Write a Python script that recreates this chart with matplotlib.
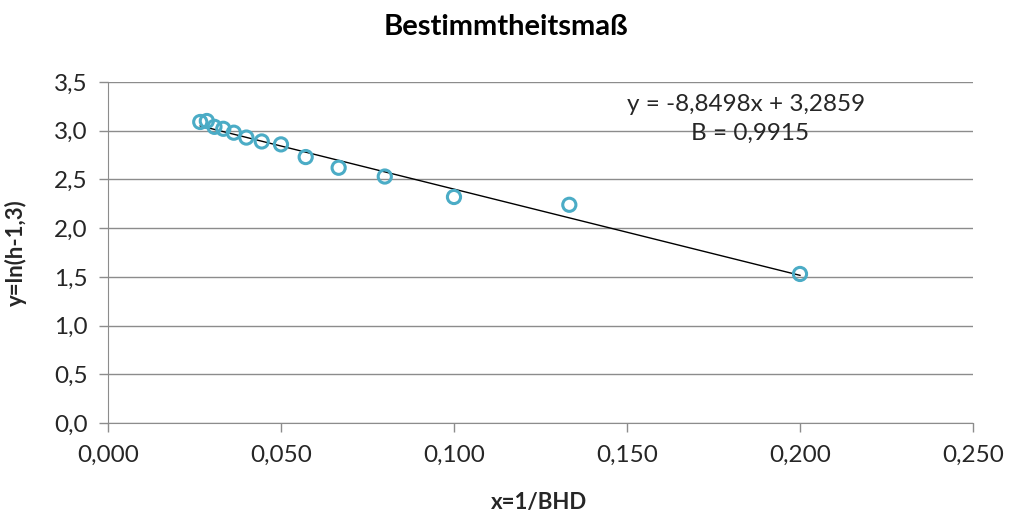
import numpy as np
import matplotlib.pyplot as plt
from matplotlib.ticker import FuncFormatter

plt.rcParams['font.family'] = ['Lato', 'DejaVu Sans']

# Brusthöhendurchmesser und transformierte Höhen
bhd = [5, 7.5, 10, 12.5, 15, 17.5, 20, 22.5, 25, 27.5, 30, 32.5, 35, 37.5]
y_vals = [1.53, 2.24, 2.32, 2.53, 2.62, 2.73, 2.86, 2.89, 2.93, 2.98, 3.02, 3.04, 3.10, 3.09]
slope = -8.8498
intercept = 3.2859
r2 = 0.9915

x_vals = 1.0 / np.array(bhd)

fig = plt.figure(figsize=(10.11, 5.14), dpi=100)
ax = fig.add_axes([0.1068, 0.177, 0.8556, 0.6634])

grid_col = '#8c8c8c'
txt_col = '#262626'
ax.grid(axis='y', color=grid_col, linewidth=1.0)
ax.set_axisbelow(True)

ax.scatter(x_vals, y_vals, s=90, facecolors='none', edgecolors='#4bacc6', linewidths=2.2, zorder=3)

# lineare Trendlinie über den Datenbereich
xt = np.array([x_vals.min(), x_vals.max()])
ax.plot(xt, slope * xt + intercept, color='black', linewidth=1.0, zorder=2)

ax.set_xlim(0, 0.25)
ax.set_ylim(0, 3.5)
ax.set_xticks(np.arange(0, 0.2501, 0.05))
ax.set_yticks(np.arange(0, 3.51, 0.5))
ax.xaxis.set_major_formatter(FuncFormatter(lambda v, p: f'{v:.3f}'.replace('.', ',')))
ax.yaxis.set_major_formatter(FuncFormatter(lambda v, p: f'{v:.1f}'.replace('.', ',')))

for s in ['top', 'right']:
    ax.spines[s].set_visible(False)
for s in ['left', 'bottom']:
    ax.spines[s].set_color(grid_col)
ax.tick_params(colors=grid_col, length=6.5, width=1.0, labelcolor=txt_col, labelsize=17.5)
ax.tick_params(axis='x', pad=9)
ax.tick_params(axis='y', pad=8)

# Achsenbeschriftungen und Titel
fig.text(0.533, 0.022, 'x=1/BHD', fontsize=16, fontweight='bold', color=txt_col,
         ha='center', va='center')
fig.text(0.016, 0.508, 'y=ln(h-1,3)', fontsize=16, fontweight='bold', color=txt_col,
         ha='center', va='center', rotation=90)
fig.text(0.5, 0.947, 'Bestimmtheitsmaß', fontsize=21, fontweight='bold', ha='center', va='center', color='black')

eq = f'y = {slope:.4f}x + {intercept:.4f}'.replace('.', ',')
bt = f'B = {r2:.4f}'.replace('.', ',')
ax.text(0.1844, 3.27, eq, fontsize=17.5, ha='center', va='center', color=txt_col)
ax.text(0.1855, 2.97, bt, fontsize=17.5, ha='center', va='center', color=txt_col)

plt.savefig('out.png', dpi=100)
